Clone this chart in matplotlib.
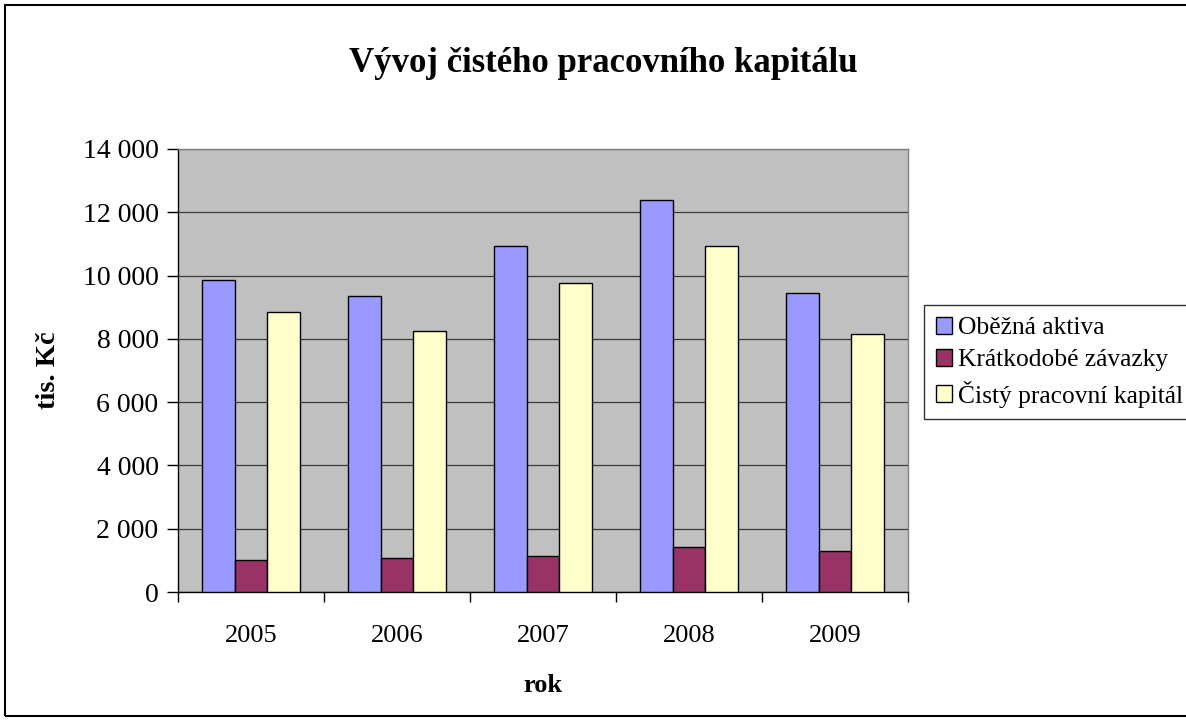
import matplotlib
matplotlib.use("Agg")
import matplotlib.pyplot as plt
import matplotlib.patches as mpatches
from matplotlib.ticker import FuncFormatter, FixedLocator
import numpy as np

plt.rcParams['font.family'] = ['Liberation Serif', 'DejaVu Serif']

years = ["2005", "2006", "2007", "2008", "2009"]
obezna_aktiva = [9870, 9350, 10930, 12400, 9450]
kratkodobe_zavazky = [1020, 1070, 1140, 1410, 1300]
cisty_pracovni_kapital = [8850, 8250, 9780, 10930, 8150]

series_names = ["Oběžná aktiva", "Krátkodobé závazky", "Čistý pracovní kapitál"]
series_colors = ["#9999FF", "#993366", "#FFFFCC"]
y_ticks = [0, 2000, 4000, 6000, 8000, 10000, 12000, 14000]

W, H = 1186, 720
fig = plt.figure(figsize=(W / 100, H / 100), dpi=100)
fig.patch.set_facecolor("white")

ax = fig.add_axes([178 / W, 1 - 592 / H, 730 / W, 443 / H])
ax.set_facecolor("#C0C0C0")

x = np.arange(len(years))
bw = 1 / 4.5
data = [obezna_aktiva, kratkodobe_zavazky, cisty_pracovni_kapital]
bars = []
for i, (vals, col, name) in enumerate(zip(data, series_colors, series_names)):
    b = ax.bar(x + (i - 1) * bw, vals, width=bw, color=col, edgecolor="black",
               linewidth=1.0, label=name, zorder=3)
    bars.append(b)

ax.set_xlim(-0.5, len(years) - 0.5)
ax.set_ylim(0, 14000)
ax.yaxis.set_major_locator(FixedLocator(y_ticks))
ax.yaxis.set_major_formatter(FuncFormatter(lambda v, p: f"{int(v):,}".replace(",", " ")))
ax.grid(axis="y", color="#3a3a3a", linewidth=0.9, zorder=1)
ax.set_axisbelow(True)

ax.set_xticks(x)
ax.set_xticklabels(years)
ax.set_xticks(np.arange(-0.5, len(years), 1), minor=True)
ax.tick_params(axis="x", which="major", length=0, pad=24, labelsize=19)
ax.tick_params(axis="x", which="minor", length=7, width=1, direction="out", color="black")
ax.tick_params(axis="y", which="major", length=8, width=1, direction="out", pad=6, labelsize=20)

for s in ["left", "bottom"]:
    ax.spines[s].set_color("black")
    ax.spines[s].set_linewidth(1.0)
for s in ["top", "right"]:
    ax.spines[s].set_color("#808080")
    ax.spines[s].set_linewidth(1.0)

fig.text(603 / W, 1 - 63 / H, "Vývoj čistého pracovního kapitálu", ha="center", va="center",
         fontsize=25, fontweight="bold")
fig.text(49 / W, 1 - 370 / H, "tis. Kč", ha="center", va="center", rotation=90,
         fontsize=20.5, fontweight="bold")
fig.text(543 / W, 1 - 686 / H, "rok", ha="center", va="center",
         fontsize=19, fontweight="bold")

leg = fig.legend(handles=[b for b in bars], labels=series_names, loc="upper left",
                 bbox_to_anchor=(924 / W, 1 - 305 / H), borderaxespad=0,
                 frameon=True, fancybox=False, fontsize=18.4, handlelength=0.65,
                 handleheight=0.65, handletextpad=0.22, labelspacing=0.38,
                 borderpad=0.45)
leg.get_frame().set_edgecolor("black")
leg.get_frame().set_linewidth(1.0)

border = mpatches.Rectangle((5 / W, 4 / H), 1.2, (716 - 5) / H, transform=fig.transFigure,
                            fill=False, edgecolor="black", linewidth=1.5, clip_on=False)
fig.patches.append(border)

fig.savefig("out.png", dpi=100)
